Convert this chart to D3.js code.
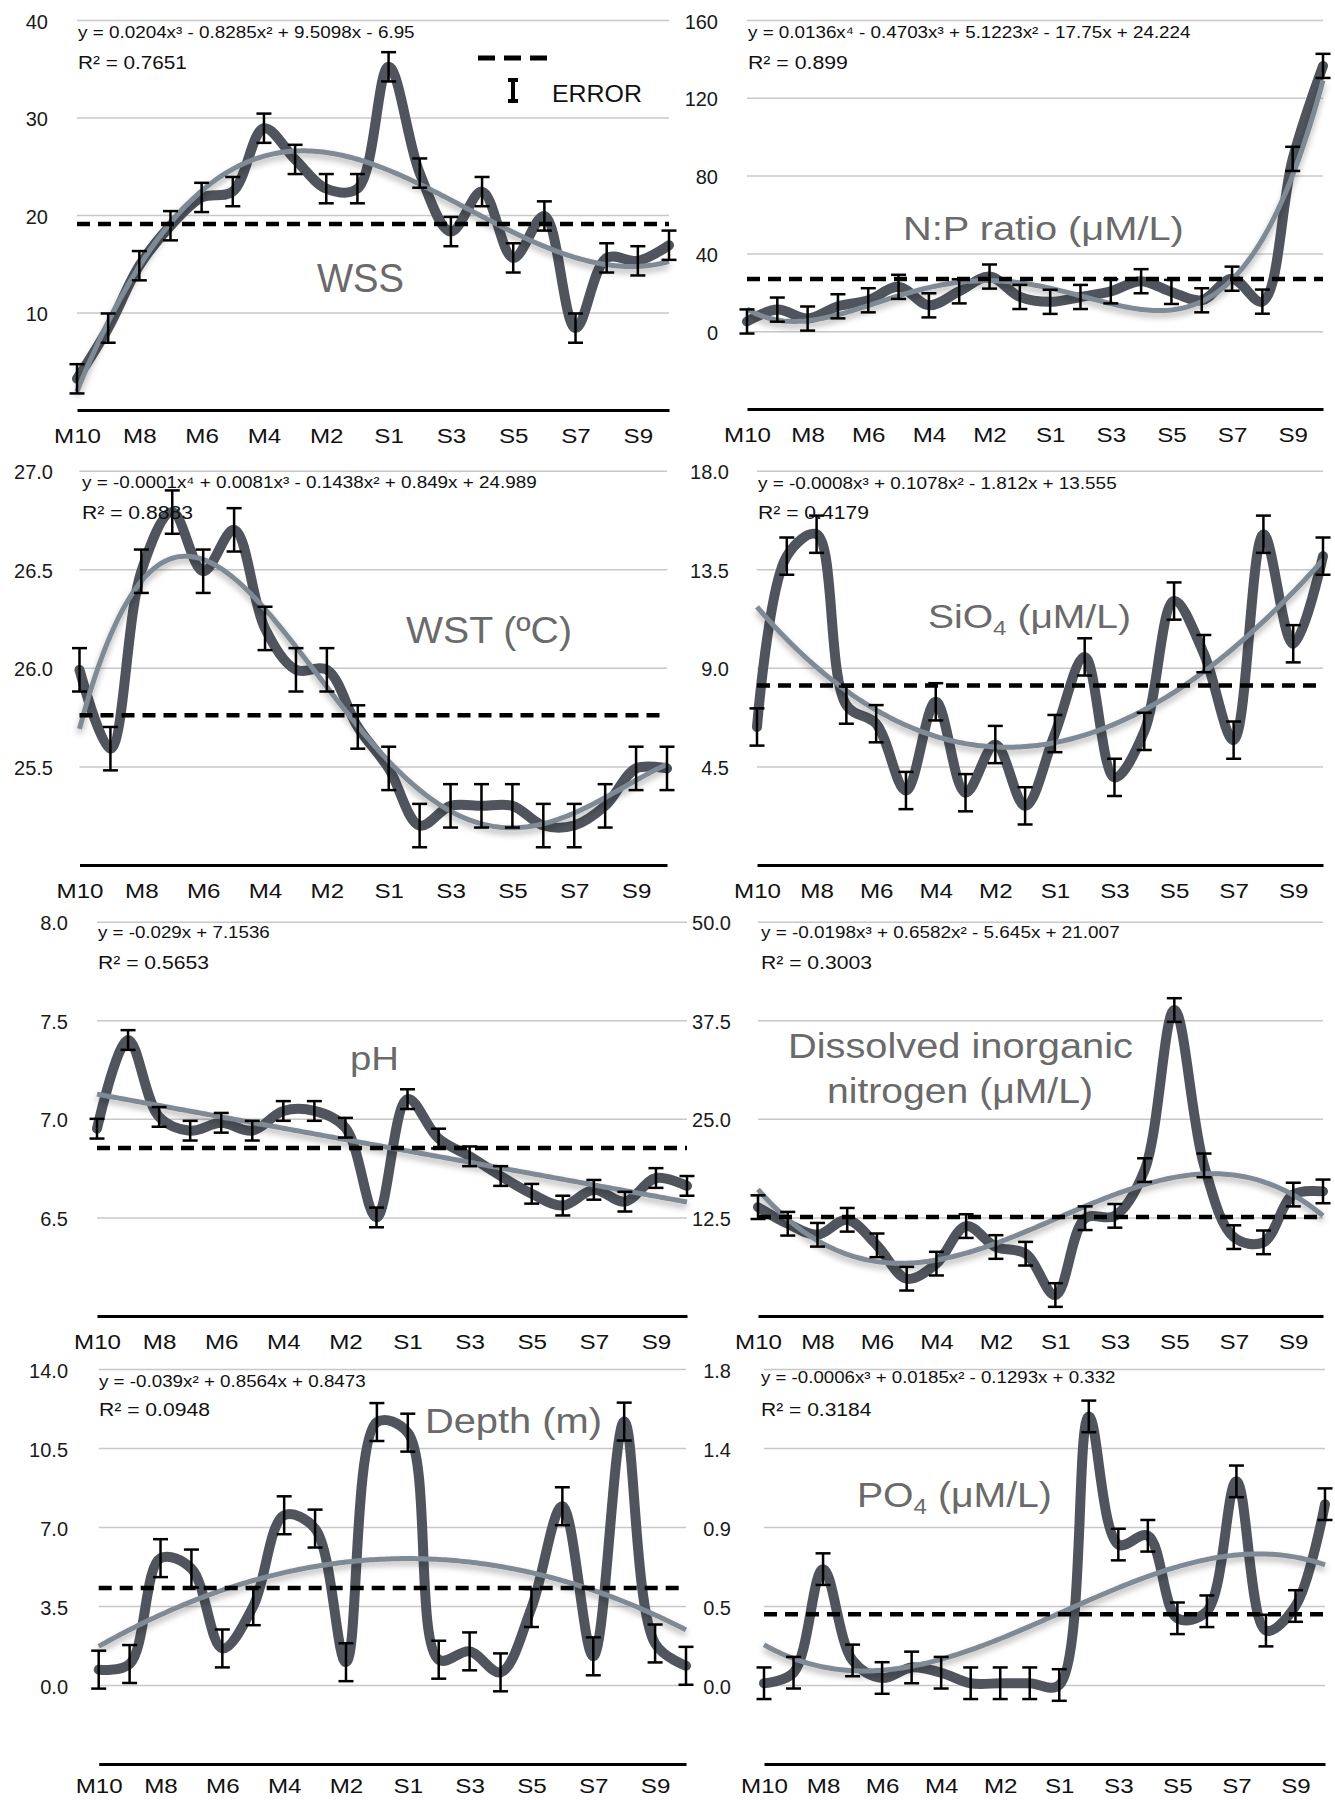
<!DOCTYPE html>
<html>
<head>
<meta charset="utf-8">
<script src="https://cdn.jsdelivr.net/npm/d3@7"></script>
<style>
  body { margin: 0; background: #fff; }
  svg text { font-family: "Liberation Sans", Arial, Helvetica, sans-serif; }
  .grid line { stroke: #c8c8c8; stroke-width: 1.5; }
  .grid text { font-size: 20px; fill: #1a1a1a; }
  .axis--x .domain { stroke: #000; stroke-width: 3; }
  .axis--x text { font-size: 21px; fill: #111; }
  .line { fill: none; stroke: #50555d; stroke-width: 10; stroke-linecap: round; stroke-linejoin: round; }
  .trend { fill: none; stroke: #7f8a95; stroke-width: 5; }
  .mean { stroke: #000; stroke-width: 4.5; stroke-dasharray: 13 8; }
  .err { stroke: #000; stroke-width: 2.5; }
  .eq { font-size: 16px; fill: #111; }
  .r2 { font-size: 19px; fill: #111; }
  .title { fill: #6a6a6a; }
</style>
</head>
<body>
<div id="chart"></div>
<script>
/*global d3 */
'use strict';

// sampling stations, the x axis only labels every other one
var categories = ['M10', 'M9', 'M8', 'M7', 'M6', 'M5', 'M4', 'M3', 'M2', 'M1',
  'S1', 'S2', 'S3', 'S4', 'S5', 'S6', 'S7', 'S8', 'S9', 'S10'];
var tickLabels = ['M10', 'M8', 'M6', 'M4', 'M2', 'S1', 'S3', 'S5', 'S7', 'S9'];

var wssValues = [3.2, 8.4, 14.8, 18.9, 21.8, 22.4, 28.9, 25.7, 22.7, 22.7,
  35.2, 24.3, 18.3, 22.4, 15.6, 19.9, 8.4, 15.6, 15.3, 16.9];
var wssError = 1.5;
var wssDomain = [0, 40];
var wssTicks = [10, 20, 30, 40];

var npValues = [5.0, 11.1, 6.5, 12.8, 15.9, 22.8, 13.3, 20.5, 28.1, 17.6,
  15.1, 17.6, 20.5, 25.7, 20.2, 15.9, 27.0, 15.2, 88.6, 136.4];
var npError = 6.2;
var npDomain = [-40, 160];
var npTicks = [0, 40, 80, 120, 160];

var wstValues = [25.99, 25.59, 26.49, 26.79, 26.49, 26.70, 26.20, 25.99, 25.99, 25.70,
  25.49, 25.20, 25.30, 25.30, 25.30, 25.20, 25.20, 25.30, 25.49, 25.49];
var wstError = 0.11;
var wstDomain = [25, 27];
var wstTicks = [25.5, 26, 26.5, 27];

var sio4Values = [6.3, 14.1, 15.1, 7.3, 6.45, 3.4, 7.45, 3.3, 5.5, 2.7,
  6.0, 9.5, 4.0, 6.1, 12.05, 9.65, 5.7, 15.1, 10.1, 14.1];
var sio4Error = 0.85;
var sio4Domain = [0, 18];
var sio4Ticks = [4.5, 9, 13.5, 18];

var phValues = [6.95, 7.40, 7.01, 6.94, 6.98, 6.94, 7.04, 7.04, 6.955, 6.50,
  7.10, 6.90, 6.81, 6.71, 6.62, 6.56, 6.64, 6.58, 6.70, 6.66];
var phError = 0.05;
var phDomain = [6, 8];
var phTicks = [6.5, 7, 7.5, 8];

var dinValues = [13.8, 11.7, 10.3, 12.2, 8.96, 4.73, 6.64, 11.4, 8.75, 7.9,
  2.66, 12.4, 12.7, 18.5, 38.8, 19.1, 10.0, 9.34, 15.4, 15.8];
var dinError = 1.5;
var dinDomain = [0, 50];
var dinTicks = [12.5, 25, 37.5, 50];

var depthValues = [0.68, 0.93, 5.62, 5.16, 1.62, 3.49, 7.52, 6.93, 1.01, 11.65,
  11.18, 1.12, 1.49, 0.56, 3.41, 7.92, 1.27, 11.67, 1.84, 0.85];
var depthError = 0.84;
var depthDomain = [-3.5, 14];
var depthTicks = [0, 3.5, 7, 10.5, 14];

var po4Values = [0.01, 0.07, 0.66, 0.14, 0.04, 0.10, 0.07, 0.01, 0.01, 0.01,
  0.0, 1.53, 0.80, 0.85, 0.38, 0.42, 1.16, 0.31, 0.45, 1.03];
var po4Error = 0.09;
var po4Domain = [-0.45, 1.8];
var po4Ticks = [0, 0.45, 0.9, 1.35, 1.8];

// '|' marks a subscript part
var titles = [['WSS'], ['N:P ratio (μM/L)'], ['WST (ºC)'], ['SiO|4| (μM/L)'], ['pH'],
  ['Dissolved inorganic', 'nitrogen (μM/L)'], ['Depth (m)'], ['PO|4| (μM/L)']];

var equations = [
  'y = 0.0204x³ - 0.8285x² + 9.5098x - 6.95',
  'y = 0.0136x⁴ - 0.4703x³ + 5.1223x² - 17.75x + 24.224',
  'y = -0.0001x⁴ + 0.0081x³ - 0.1438x² + 0.849x + 24.989',
  'y = -0.0008x³ + 0.1078x² - 1.812x + 13.555',
  'y = -0.029x + 7.1536',
  'y = -0.0198x³ + 0.6582x² - 5.645x + 21.007',
  'y = -0.039x² + 0.8564x + 0.8473',
  'y = -0.0006x³ + 0.0185x² - 0.1293x + 0.332'
];
var rSquared = ['R² = 0.7651', 'R² = 0.899', 'R² = 0.8883', 'R² = 0.4179',
  'R² = 0.5653', 'R² = 0.3003', 'R² = 0.0948', 'R² = 0.3184'];

// trend line polynomial degree of each panel
var degrees = [3, 4, 4, 3, 1, 3, 2, 3];

var series = [
  { values: wssValues, error: wssError, domain: wssDomain, ticks: wssTicks, format: 'd' },
  { values: npValues, error: npError, domain: npDomain, ticks: npTicks, format: 'd' },
  { values: wstValues, error: wstError, domain: wstDomain, ticks: wstTicks, format: '.1f' },
  { values: sio4Values, error: sio4Error, domain: sio4Domain, ticks: sio4Ticks, format: '.1f' },
  { values: phValues, error: phError, domain: phDomain, ticks: phTicks, format: '.1f' },
  { values: dinValues, error: dinError, domain: dinDomain, ticks: dinTicks, format: '.1f' },
  { values: depthValues, error: depthError, domain: depthDomain, ticks: depthTicks, format: '.1f' },
  { values: po4Values, error: po4Error, domain: po4Domain, ticks: po4Ticks, format: '.1f' }
];

// where each panel sits on the page
var layout = [
  { left: 77, right: 669, top: 20, bottom: 410, labelRight: 48, xPad: 18, eqX: 78, eqY: 38, r2Y: 69, eqW: 337, r2W: 109,
    titleX: [317], titleY: [292], titleW: [87], titleSize: 40 },
  { left: 747, right: 1323, top: 20, bottom: 409, labelRight: 718, xPad: 18, eqX: 748, eqY: 38, r2Y: 69, eqW: 443, r2W: 100,
    titleX: [903], titleY: [240], titleW: [281], titleSize: 34 },
  { left: 79.5, right: 667, top: 470.7, bottom: 865, labelRight: 53, xPad: 18, eqX: 82, eqY: 488, r2Y: 519, eqW: 455, r2W: 111,
    titleX: [406], titleY: [643], titleW: [166], titleSize: 37 },
  { left: 757, right: 1323, top: 470.7, bottom: 865, labelRight: 729, xPad: 18, eqX: 758, eqY: 489, r2Y: 519, eqW: 359, r2W: 111,
    titleX: [928], titleY: [628], titleW: [203], titleSize: 34 },
  { left: 97, right: 687, top: 921.7, bottom: 1316, labelRight: 68, xPad: 18, eqX: 98, eqY: 938, r2Y: 969, eqW: 172, r2W: 111,
    titleX: [350], titleY: [1070], titleW: [49], titleSize: 33 },
  { left: 758, right: 1323, top: 921.7, bottom: 1316, labelRight: 731, xPad: 18, eqX: 761, eqY: 938, r2Y: 969, eqW: 359, r2W: 111,
    titleX: [788, 827], titleY: [1058, 1103], titleW: [345, 266], titleSize: 35 },
  { left: 98.7, right: 686, top: 1369, bottom: 1764, labelRight: 68, xPad: 14, eqX: 99, eqY: 1387, r2Y: 1416, eqW: 267, r2W: 111,
    titleX: [425], titleY: [1433], titleW: [177], titleSize: 35 },
  { left: 764, right: 1325, top: 1369, bottom: 1764, labelRight: 731, xPad: 14, eqX: 761, eqY: 1383, r2Y: 1416, eqW: 355, r2W: 111,
    titleX: [857], titleY: [1507], titleW: [195], titleSize: 35 }
];

var frame = { width: 1335, height: 1800 };

var svg = d3.select('#chart').append('svg')
  .attr('width', frame.width)
  .attr('height', frame.height);

svg.append('defs').append('filter')
  .attr('id', 'shadow')
  .attr('filterUnits', 'userSpaceOnUse')
  .attr('x', 0).attr('y', 0)
  .attr('width', frame.width).attr('height', frame.height)
  .append('feDropShadow')
  .attr('dx', 0)
  .attr('dy', 4)
  .attr('stdDeviation', 3)
  .attr('flood-color', '#000')
  .attr('flood-opacity', 0.3);

// least squares polynomial, x = 1..n like a spreadsheet trendline
function polyFit(values, degree) {
  var n = values.length,
    size = degree + 1,
    mid = (n + 1) / 2,
    half = (n - 1) / 2,
    A = [],
    b = [],
    i, j, k;
  for (i = 0; i < size; i++) {
    A.push(d3.range(size).map(function () { return 0; }));
    b.push(0);
  }
  values.forEach(function (v, idx) {
    var t = (idx + 1 - mid) / half;
    for (i = 0; i < size; i++) {
      for (j = 0; j < size; j++) {
        A[i][j] += Math.pow(t, i + j);
      }
      b[i] += v * Math.pow(t, i);
    }
  });
  for (i = 0; i < size; i++) {
    var p = i;
    for (k = i + 1; k < size; k++) {
      if (Math.abs(A[k][i]) > Math.abs(A[p][i])) { p = k; }
    }
    var tmp = A[i]; A[i] = A[p]; A[p] = tmp;
    var tb = b[i]; b[i] = b[p]; b[p] = tb;
    for (k = i + 1; k < size; k++) {
      var f = A[k][i] / A[i][i];
      for (j = i; j < size; j++) { A[k][j] -= f * A[i][j]; }
      b[k] -= f * b[i];
    }
  }
  var c = [];
  for (i = size - 1; i >= 0; i--) {
    var s = b[i];
    for (j = i + 1; j < size; j++) { s -= A[i][j] * c[j]; }
    c[i] = s / A[i][i];
  }
  return function (xv) {
    var t = (xv - mid) / half, sum = 0;
    for (var q = 0; q < size; q++) { sum += c[q] * Math.pow(t, q); }
    return sum;
  };
}

// stretch a text element so it spans the width seen in the picture
function fitText(text, x, y, width) {
  var natural = text.node().getBBox().width;
  text.attr('transform', 'translate(' + x + ',' + y + ') scale(' + (width / natural) + ',1)');
}

series.forEach(function (s, n) {
  var L = layout[n];
  var g = svg.append('g').attr('class', 'panel');

  var x = d3.scalePoint()
    .domain(categories)
    .range([L.left, L.right]);

  var xTrend = d3.scaleLinear()
    .domain([1, categories.length])
    .range([L.left, L.right]);

  var y = d3.scaleLinear()
    .domain(s.domain)
    .range([L.bottom, L.top]);

  //gridlines with y labels
  g.append('g')
    .attr('class', 'grid')
    .attr('transform', 'translate(' + L.left + ',0)')
    .call(d3.axisLeft(y)
      .tickValues(s.ticks)
      .tickSize(-(L.right - L.left))
      .tickPadding(L.left - L.labelRight)
      .tickFormat(d3.format(s.format)))
    .call(function (a) { a.select('.domain').remove(); })
    .selectAll('text').attr('dy', '0.4em');

  //x axis, labels a little wider as in the source picture
  g.append('g')
    .attr('class', 'axis axis--x')
    .attr('transform', 'translate(0,' + L.bottom + ')')
    .call(d3.axisBottom(x)
      .tickValues(tickLabels)
      .tickSize(0)
      .tickSizeOuter(0)
      .tickPadding(L.xPad))
    .selectAll('.tick text')
    .attr('transform', 'scale(1.15,1)');

  //smoothed data line
  var line = d3.line()
    .x(function (d, i) { return x(categories[i]); })
    .y(function (d) { return y(d); })
    .curve(d3.curveCatmullRom.alpha(0.5));

  g.append('path')
    .datum(s.values)
    .attr('class', 'line')
    .attr('d', line);

  //polynomial trend line
  var fit = polyFit(s.values, degrees[n]);
  var trendLine = d3.line()
    .x(function (d) { return xTrend(d); })
    .y(function (d) { return y(fit(d)); });

  g.append('path')
    .datum(d3.range(1, categories.length + 0.001, 0.1))
    .attr('class', 'trend')
    .attr('filter', 'url(#shadow)')
    .attr('d', trendLine);

  //error bars
  var bars = g.selectAll('.errbar')
    .data(s.values)
    .enter().append('g')
    .attr('class', 'errbar');

  bars.append('line')
    .attr('class', 'err')
    .attr('x1', function (d, i) { return x(categories[i]); })
    .attr('x2', function (d, i) { return x(categories[i]); })
    .attr('y1', function (d) { return y(d - s.error); })
    .attr('y2', function (d) { return y(d + s.error); });

  [-1, 1].forEach(function (sign) {
    bars.append('line')
      .attr('class', 'err')
      .attr('stroke-width', 3)
      .attr('x1', function (d, i) { return x(categories[i]) - 7.5; })
      .attr('x2', function (d, i) { return x(categories[i]) + 7.5; })
      .attr('y1', function (d) { return y(d + sign * s.error); })
      .attr('y2', function (d) { return y(d + sign * s.error); });
  });

  //dashed mean line
  var mean = d3.mean(s.values);
  g.append('line')
    .attr('class', 'mean')
    .attr('x1', L.left)
    .attr('x2', L.right)
    .attr('y1', y(mean))
    .attr('y2', y(mean));

  //trendline equation and R squared
  fitText(g.append('text').attr('class', 'eq').text(equations[n]), L.eqX, L.eqY, L.eqW);
  fitText(g.append('text').attr('class', 'r2').text(rSquared[n]), L.eqX, L.r2Y, L.r2W);

  //panel title
  titles[n].forEach(function (lineText, li) {
    var t = g.append('text')
      .attr('class', 'title')
      .style('font-size', L.titleSize + 'px');
    lineText.split('|').forEach(function (part, pi) {
      var span = t.append('tspan').text(part);
      if (pi % 2 === 1) {
        span.style('font-size', (L.titleSize * 0.62) + 'px')
          .attr('dy', L.titleSize * 0.2);
      } else if (pi > 0) {
        span.attr('dy', -L.titleSize * 0.2);
      }
    });
    fitText(t, L.titleX[li], L.titleY[li], L.titleW[li]);
  });
});

//legend in the first panel
var legend = svg.append('g').attr('class', 'legend');

legend.append('line')
  .attr('x1', 478)
  .attr('x2', 551)
  .attr('y1', 58)
  .attr('y2', 58)
  .attr('stroke', '#000')
  .attr('stroke-width', 5)
  .attr('stroke-dasharray', '17 9');

legend.append('path')
  .attr('d', 'M508,80H518M513,80V101M508,101H518')
  .attr('stroke', '#000')
  .attr('stroke-width', 4)
  .attr('fill', 'none');

fitText(legend.append('text')
  .style('font-size', '24px')
  .attr('fill', '#111')
  .text('ERROR'), 552, 102, 90);
</script>
</body>
</html>
